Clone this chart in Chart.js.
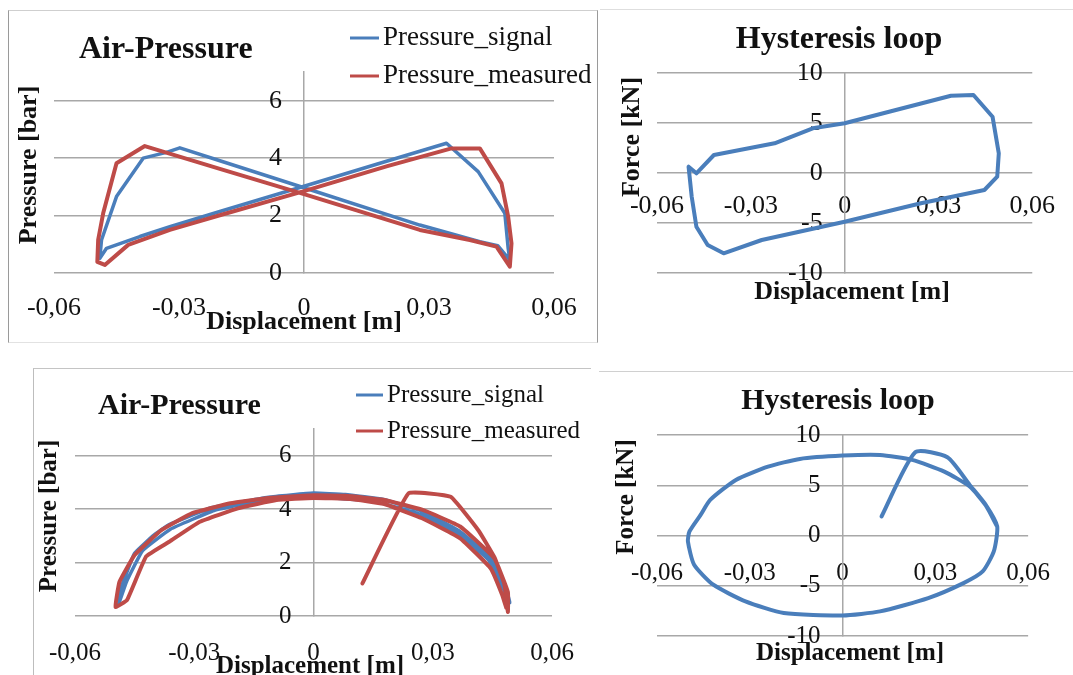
<!DOCTYPE html>
<html>
<head>
<meta charset="utf-8">
<script src="https://cdn.jsdelivr.net/npm/chart.js@4.4.1/dist/chart.umd.min.js"></script>
<style>
  body { margin: 0; background: #fff; width: 1073px; height: 675px; position: relative; overflow: hidden; }
  .box { position: absolute; }
  .rule { position: absolute; }
</style>
</head>
<body>
<!-- sheet frames / cell borders around the pasted charts -->
<div class="rule" style="left:8px;top:10px;width:588px;height:331px;border:1.5px solid #9a9a9a;border-top-color:#cfcfcf;border-bottom-color:#e2e2e2;"></div>
<div class="rule" style="left:600px;top:9px;width:473px;height:0;border-top:1.5px solid #dedede;"></div>
<div class="rule" style="left:33px;top:368px;width:557px;height:320px;border-left:1.5px solid #bdbdbd;border-top:1.5px solid #c4c4c4;"></div>
<div class="rule" style="left:599px;top:371px;width:474px;height:0;border-top:1.5px solid #d0d0d0;"></div>

<div class="box" style="left:0;top:0;width:600px;height:345px"><canvas id="airTop"></canvas></div>
<div class="box" style="left:600px;top:0;width:473px;height:345px"><canvas id="hystTop"></canvas></div>
<div class="box" style="left:0;top:345px;width:600px;height:330px"><canvas id="airBottom"></canvas></div>
<div class="box" style="left:590px;top:345px;width:483px;height:330px"><canvas id="hystBottom"></canvas></div>

<script>
// ---- tick values ----
const dispTicks = [-0.06, -0.03, 0, 0.03, 0.06];
const pressureTicks = [0, 2, 4, 6];
const forceTicks = [-10, -5, 0, 5, 10];

// ---- top-left: Air-Pressure (triangular cycle) ----
const sig1X = [-0.0490, -0.0474, -0.0394, -0.0322, -0.020, 0, 0.020, 0.0342, 0.0418, 0.0482, 0.0490, 0.0494, 0.0465, 0.0422, 0.0278, 0, -0.020, -0.0298, -0.0330, -0.0386, -0.0450, -0.0486, -0.0490];
const sig1Y = [0.51, 0.86, 1.27, 1.61, 2.15, 3.02, 3.90, 4.52, 3.53, 2.08, 0.86, 0.45, 0.95, 1.09, 1.67, 2.97, 3.90, 4.36, 4.20, 4.00, 2.66, 1.15, 0.51];
const meas1X = [-0.0478, -0.0422, -0.0322, -0.020, 0, 0.020, 0.0354, 0.0422, 0.0474, 0.0490, 0.0498, 0.0494, 0.0462, 0.0398, 0.0278, 0, -0.020, -0.0382, -0.0450, -0.0482, -0.0494, -0.0496, -0.0478];
const meas1Y = [0.28, 0.98, 1.50, 2.02, 2.85, 3.72, 4.34, 4.34, 3.12, 1.96, 1.03, 0.22, 0.92, 1.15, 1.50, 2.75, 3.62, 4.42, 3.82, 2.08, 1.15, 0.39, 0.28];

// ---- top-right: Hysteresis loop ----
const force1X = [-0.0499, -0.0489, -0.0474, -0.0438, -0.0387, -0.0265, 0, 0.0244, 0.0447, 0.0488, 0.0493, 0.0473, 0.0412, 0.0340, 0, -0.0102, -0.0224, -0.0418, -0.0474, -0.0499];
const force1Y = [0.63, -2.37, -5.37, -7.20, -8.03, -6.70, -4.87, -3.03, -1.70, -0.37, 1.97, 5.63, 7.80, 7.73, 4.97, 4.47, 2.97, 1.80, -0.03, 0.63];

// ---- bottom-left: Air-Pressure (sinusoidal cycle) ----
const sig2X = [-0.0490, -0.0483, -0.0450, -0.0400, -0.0363, -0.0257, -0.0113, 0, 0.0080, 0.0176, 0.0273, 0.0369, 0.0446, 0.0484, 0.0494, 0.0478, 0.0440, 0.0360, 0.0270, 0.0150, 0, -0.0120, -0.0250, -0.0360, -0.0430, -0.0470, -0.0490];
const sig2Y = [0.45, 1.10, 2.35, 3.05, 3.42, 4.05, 4.45, 4.60, 4.55, 4.36, 3.92, 3.16, 2.16, 1.03, 0.50, 1.00, 2.10, 3.10, 3.80, 4.30, 4.45, 4.35, 3.95, 3.25, 2.45, 1.30, 0.45];
const meas2X = [0.0123, 0.0239, 0.0345, 0.0415, 0.0455, 0.0480, 0.0489, 0.0489, 0.0455, 0.0369, 0.0273, 0.0176, 0.0080, 0, -0.0113, -0.0209, -0.0305, -0.0382, -0.0450, -0.0488, -0.0498, -0.0469, -0.0421, -0.0363, -0.0286, -0.0190, -0.0093, 0, 0.0093, 0.0176, 0.0273, 0.0369, 0.0446, 0.0475, 0.0485];
const meas2Y = [1.22, 4.59, 4.46, 3.20, 2.20, 1.20, 0.15, 0.90, 2.16, 3.35, 3.98, 4.35, 4.50, 4.52, 4.42, 4.22, 3.85, 3.22, 2.28, 1.28, 0.34, 0.60, 2.23, 2.78, 3.53, 4.03, 4.34, 4.42, 4.38, 4.20, 3.66, 2.91, 1.78, 0.78, 0.30];

// ---- bottom-right: Hysteresis loop (elliptic) ----
const force2X = [0.0126, 0.0235, 0.0339, 0.0411, 0.0463, 0.0500, 0.0489, 0.0453, 0.0391, 0.0277, 0.0121, 0, -0.0190, -0.0314, -0.0418, -0.0480, -0.0500, -0.0495, -0.0459, -0.0428, -0.0345, -0.0241, -0.0138, 0, 0.0121, 0.0225, 0.0329, 0.0411, 0.0463, 0.0498];
const force2Y = [1.89, 8.28, 7.78, 5.03, 3.05, 0.90, -1.59, -3.58, -4.74, -6.23, -7.55, -7.95, -7.72, -6.56, -4.90, -2.91, -0.60, 0.40, 2.05, 3.54, 5.53, 6.85, 7.62, 7.95, 8.01, 7.52, 6.36, 4.87, 3.00, 1.00];

const BLUE = '#4a7ebb';
const RED = '#be4b48';
const SERIF = "'Liberation Serif', 'Times New Roman', serif";

function pts(xs, ys) {
    return xs.map((x, i) => ({ x: x, y: ys[i] }));
}

function dispLabel(v) {
    const r = Math.round(v * 100) / 100;
    return r === 0 ? '0' : r.toFixed(2).replace('.', ',');
}

// titles, axis titles and the legend are drawn over the chart
const overlayText = {
    id: 'overlayText',
    afterDraw(chart, args, opts) {
        const ctx = chart.ctx;
        ctx.save();
        ctx.fillStyle = '#111';
        ctx.textBaseline = 'middle';
        (opts.items || []).forEach((t) => {
            ctx.save();
            ctx.font = t.font;
            ctx.textAlign = t.align || 'center';
            ctx.translate(t.x, t.y);
            if (t.rotate) ctx.rotate(t.rotate);
            ctx.fillText(t.text, 0, 0);
            ctx.restore();
        });
        const lg = opts.legend;
        if (lg) {
            ctx.font = lg.font;
            ctx.textAlign = 'left';
            chart.data.datasets.forEach((ds, i) => {
                const y = lg.y + i * lg.gap;
                ctx.strokeStyle = ds.borderColor;
                ctx.lineWidth = 3;
                ctx.beginPath();
                ctx.moveTo(lg.x, y);
                ctx.lineTo(lg.x + lg.len, y);
                ctx.stroke();
                ctx.fillText(ds.label, lg.x + lg.len + 4, y);
            });
        }
        ctx.restore();
    }
};

function makeChart(id, datasets, cfg) {
    const ctx = document.getElementById(id).getContext('2d');
    return new Chart(ctx, {
        type: 'scatter',
        data: { datasets: datasets },
        plugins: [overlayText],
        options: {
            responsive: true,
            maintainAspectRatio: false,
            animation: false,
            layout: { padding: cfg.padding },
            elements: {
                point: { radius: 0 },
                line: { borderWidth: 3.8, tension: 0, borderJoinStyle: 'round', borderCapStyle: 'round' }
            },
            scales: {
                x: {
                    type: 'linear',
                    position: { y: 0 },
                    min: -0.06,
                    max: 0.06,
                    afterBuildTicks: (axis) => { axis.ticks = dispTicks.map((v) => ({ value: v })); },
                    grid: { display: false, drawTicks: false },
                    border: { display: false },
                    ticks: {
                        padding: cfg.xPad,
                        color: '#111',
                        maxRotation: 0,
                        autoSkip: false,
                        font: { family: SERIF, size: cfg.tick },
                        callback: (v) => dispLabel(v)
                    }
                },
                y: {
                    type: 'linear',
                    position: 'center',
                    min: cfg.yMin,
                    max: cfg.yMax,
                    afterBuildTicks: (axis) => { axis.ticks = cfg.yTicks.map((v) => ({ value: v })); },
                    grid: { color: '#a8a8a8', lineWidth: 1.5, drawTicks: false },
                    border: { color: '#a8a8a8', width: 1.5 },
                    ticks: {
                        padding: 22,
                        color: '#111',
                        autoSkip: false,
                        font: { family: SERIF, size: cfg.tick }
                    }
                }
            },
            plugins: {
                legend: { display: false },
                tooltip: { enabled: false },
                overlayText: { items: cfg.items, legend: cfg.legend }
            }
        }
    });
}

function pressureSets(sx, sy, mx, my, tension) {
    return [
        { label: 'Pressure_signal', data: pts(sx, sy), showLine: true, borderColor: BLUE, backgroundColor: BLUE, borderWidth: 3.5, tension: tension, order: 1 },
        { label: 'Pressure_measured', data: pts(mx, my), showLine: true, borderColor: RED, backgroundColor: RED, borderWidth: 4, tension: tension, order: 0 }
    ];
}

function forceSets(fx, fy, tension) {
    return [
        { label: 'Force', data: pts(fx, fy), showLine: true, borderColor: BLUE, backgroundColor: BLUE, borderWidth: 4, tension: tension }
    ];
}

makeChart('airTop', pressureSets(sig1X, sig1Y, meas1X, meas1Y, 0), {
    padding: { left: 54, right: 46, top: 72, bottom: 72 },
    yMin: 0, yMax: 7, yTicks: pressureTicks, tick: 26, xPad: 20,
    legend: { x: 350, y: 38, gap: 38, len: 29, font: '27px ' + SERIF },
    items: [
        { text: 'Air-Pressure', x: 79, y: 50, align: 'left', font: 'bold 32px ' + SERIF },
        { text: 'Pressure [bar]', x: 29, y: 165, rotate: -Math.PI / 2, font: 'bold 26px ' + SERIF },
        { text: 'Displacement [m]', x: 304, y: 322, font: 'bold 26px ' + SERIF }
    ]
});

makeChart('hystTop', forceSets(force1X, force1Y, 0), {
    padding: { left: 57, right: 23, top: 73, bottom: 72 },
    yMin: -10, yMax: 10, yTicks: forceTicks, tick: 26, xPad: 18,
    items: [
        { text: 'Hysteresis loop', x: 239, y: 40, font: 'bold 32px ' + SERIF },
        { text: 'Force [kN]', x: 32, y: 137, rotate: -Math.PI / 2, font: 'bold 26px ' + SERIF },
        { text: 'Displacement [m]', x: 252, y: 292, font: 'bold 26px ' + SERIF }
    ]
});

makeChart('airBottom', pressureSets(sig2X, sig2Y, meas2X, meas2Y, 0.1), {
    padding: { left: 75, right: 48, top: 84, bottom: 59 },
    yMin: 0, yMax: 7, yTicks: pressureTicks, tick: 25, xPad: 22,
    legend: { x: 356, y: 50, gap: 36, len: 27, font: '25px ' + SERIF },
    items: [
        { text: 'Air-Pressure', x: 98, y: 61, align: 'left', font: 'bold 30px ' + SERIF },
        { text: 'Pressure [bar]', x: 50, y: 171, rotate: -Math.PI / 2, font: 'bold 25px ' + SERIF },
        { text: 'Displacement [m]', x: 310, y: 322, font: 'bold 25px ' + SERIF }
    ]
});

makeChart('hystBottom', forceSets(force2X, force2Y, 0.2), {
    padding: { left: 67, right: 29, top: 90, bottom: 39 },
    yMin: -10, yMax: 10, yTicks: forceTicks, tick: 25, xPad: 23,
    items: [
        { text: 'Hysteresis loop', x: 248, y: 56, font: 'bold 30px ' + SERIF },
        { text: 'Force [kN]', x: 37, y: 152, rotate: -Math.PI / 2, font: 'bold 25px ' + SERIF },
        { text: 'Displacement [m]', x: 260, y: 309, font: 'bold 25px ' + SERIF }
    ]
});
</script>
</body>
</html>
